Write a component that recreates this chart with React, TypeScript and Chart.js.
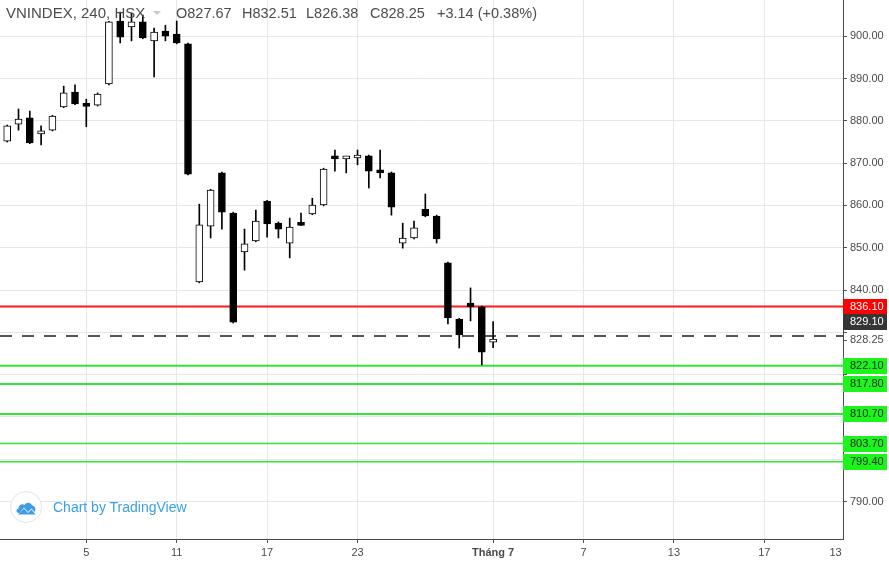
import React, { useEffect, useRef } from 'react';
import { Chart, registerables } from 'chart.js';

Chart.register(...registerables);

// ---- Data ----
const openP = [875.2, 879.2, 880.7, 876.9, 877.8, 883.3, 886.8, 883.6, 883.7, 888.7, 903.6, 902.2, 903.4, 898.9, 901.2, 900.5, 898.2, 841.9, 855.1, 867.7, 858.2, 849.0, 851.6, 861.0, 855.8, 851.1, 855.6, 858.0, 860.1, 871.7, 871.0, 871.2, 871.7, 868.4, 867.7, 851.1, 852.3, 859.1, 857.5, 846.4, 833.1, 836.9, 836.0, 827.67];
const highP = [879.0, 882.8, 882.3, 878.8, 881.3, 888.2, 888.5, 885.1, 886.6, 903.5, 905.7, 905.5, 905.0, 901.9, 902.6, 903.6, 898.4, 860.3, 863.8, 867.9, 858.4, 854.4, 858.9, 861.2, 856.1, 857.0, 858.2, 861.7, 868.8, 873.1, 871.6, 873.1, 871.9, 873.1, 867.9, 855.8, 856.3, 862.7, 857.7, 846.6, 833.3, 840.5, 836.2, 832.51];
const lowP = [875.0, 877.8, 874.6, 874.3, 877.6, 883.1, 883.8, 878.6, 883.5, 888.5, 898.4, 898.9, 899.4, 890.4, 898.9, 898.2, 867.2, 841.7, 852.3, 854.4, 832.2, 844.7, 851.4, 852.5, 852.3, 847.6, 855.2, 857.8, 859.9, 868.1, 867.7, 869.6, 864.1, 866.5, 857.7, 849.9, 852.1, 857.3, 851.1, 832.0, 826.3, 832.7, 822.3, 826.38];
const closeP = [878.8, 880.4, 874.8, 877.6, 881.1, 886.6, 884.0, 883.4, 886.3, 903.4, 899.8, 903.4, 899.6, 901.0, 900.0, 898.4, 867.4, 855.4, 863.6, 858.4, 832.4, 850.9, 856.3, 855.6, 854.4, 854.9, 855.3, 860.1, 868.6, 871.0, 871.4, 871.7, 868.1, 867.7, 859.6, 852.3, 854.7, 857.5, 852.1, 833.4, 829.4, 836.0, 825.3, 828.25];

const xTickIdx = [7, 15, 23, 31, 43, 51, 59, 67, 73.3];
const xTickLabels = ['5', '11', '17', '23', 'Tháng 7', '7', '13', '17', '13'];
const yTickVals = [790, 800, 810, 820, 830, 840, 850, 860, 870, 880, 890, 900];

const redLevels = [836.1];
const greyLevels = [829.1];
const greenLevels = [822.1, 817.8, 810.7, 803.7, 799.4];
const lastPrice = 828.25;

const headerTitle = 'VNINDEX, 240, HSX';
const headerO = 'O827.67';
const headerH = 'H832.51';
const headerL = 'L826.38';
const headerC = 'C828.25';
const headerChg = '+3.14 (+0.38%)';

// ---- Scale window ----
const X_MIN = -0.637;
const X_MAX = 73.96;
const Y_MIN = 781.14;
const Y_MAX = 908.56;

const FONT = '"Liberation Sans", Arial, sans-serif';

const levelLabelPlugin = {
  id: 'levelLabels',
  afterDraw(chart: any) {
    const ys = chart.scales.y;
    const ctx = chart.ctx as CanvasRenderingContext2D;
    const left = ys.left;
    const w = 44;
    const h = 16;
    ctx.save();
    ctx.font = '11px ' + FONT;
    ctx.textBaseline = 'middle';
    ctx.textAlign = 'left';

    const lastY = ys.getPixelForValue(lastPrice);
    ctx.strokeStyle = '#555';
    ctx.lineWidth = 1;
    ctx.beginPath();
    ctx.moveTo(left, Math.round(lastY) + 0.5);
    ctx.lineTo(left + 4, Math.round(lastY) + 0.5);
    ctx.stroke();
    ctx.fillStyle = '#4a4a4a';
    ctx.fillText(lastPrice.toFixed(2), left + 7, lastY);

    const boxes = [
      ...redLevels.map((v) => ({ v, bg: '#ff0000', fg: '#ffffff' })),
      ...greyLevels.map((v) => ({ v, bg: '#363636', fg: '#ffffff' })),
      ...greenLevels.map((v) => ({ v, bg: '#1cf51c', fg: '#2a2a2a' })),
    ];
    boxes.forEach((b) => {
      let cy = ys.getPixelForValue(b.v);
      if (Math.abs(cy - lastY) < h) cy = lastY - h / 2 - 10;
      ctx.fillStyle = b.bg;
      ctx.fillRect(left, Math.round(cy - h / 2), w, h);
      ctx.fillStyle = b.fg;
      ctx.fillText(b.v.toFixed(2), left + 7, cy + 0.5);
    });
    ctx.restore();
  },
};

function hline(v: number, color: string, width: number, dash: number[] = []) {
  return {
    type: 'line' as const,
    data: [
      { x: X_MIN, y: v },
      { x: X_MAX, y: v },
    ],
    borderColor: color,
    borderWidth: width,
    borderDash: dash,
    pointRadius: 0,
    fill: false,
    order: 5,
  };
}

function CandleChart() {
  const ref = useRef<HTMLCanvasElement | null>(null);
  useEffect(() => {
    if (!ref.current) return;
    const idx = openP.map((_, i) => i);
    const bodies = idx.map((i) => ({ x: i, y: [Math.min(openP[i], closeP[i]), Math.max(openP[i], closeP[i])] }));
    const wicks = idx.map((i) => ({ x: i, y: [lowP[i], highP[i]] }));
    const bodyFill = idx.map((i) => (closeP[i] >= openP[i] ? '#ffffff' : '#000000'));
    const greenWidths = greenLevels.map((_, i) => (i < 3 ? 2 : 1.5));

    const chart = new Chart(ref.current, {
      type: 'bar',
      data: {
        datasets: [
          {
            type: 'bar',
            data: bodies as any,
            backgroundColor: bodyFill,
            borderColor: '#000000',
            borderWidth: 1,
            borderSkipped: false,
            barThickness: 7,
            minBarLength: 3,
            grouped: false,
            order: 0,
          } as any,
          {
            type: 'bar',
            data: wicks as any,
            backgroundColor: '#000000',
            borderWidth: 0,
            barThickness: 1,
            grouped: false,
            order: 1,
          } as any,
          ...redLevels.map((v) => hline(v, '#ff1a1a', 2)),
          ...greyLevels.map((v) => hline(v, '#555555', 2, [12, 10])),
          ...greenLevels.map((v, i) => hline(v, '#33e633', greenWidths[i])),
        ] as any,
      },
      options: {
        responsive: false,
        animation: false,
        maintainAspectRatio: false,
        layout: { padding: 0 },
        plugins: { legend: { display: false }, tooltip: { enabled: false } },
        scales: {
          x: {
            type: 'linear',
            min: X_MIN,
            max: X_MAX,
            offset: false,
            afterBuildTicks: (s: any) => {
              s.ticks = xTickIdx.map((v) => ({ value: v }));
            },
            afterFit: (s: any) => {
              s.height = 24;
              s.paddingLeft = 0;
              s.paddingRight = 0;
              s.paddingTop = 0;
              s.paddingBottom = 0;
            },
            grid: {
              offset: false,
              color: (c: any) => (c.index === xTickIdx.length - 1 ? 'rgba(0,0,0,0)' : '#e3e8ef'),
              tickColor: (c: any) => (c.index === xTickIdx.length - 1 ? 'rgba(0,0,0,0)' : '#555555'),
              tickLength: 4,
              lineWidth: 1,
            },
            border: { display: true, color: '#4a4a4a', width: 1 },
            ticks: {
              autoSkip: false,
              maxRotation: 0,
              minRotation: 0,
              padding: 3,
              color: '#4a4a4a',
              font: (c: any) => ({
                family: FONT,
                size: 11,
                weight: c.index === 4 ? 'bold' : 'normal',
              }),
              callback: (_v: any, i: number) => xTickLabels[i],
            },
          },
          y: {
            type: 'linear',
            position: 'right',
            min: Y_MIN,
            max: Y_MAX,
            afterBuildTicks: (s: any) => {
              s.ticks = yTickVals.map((v) => ({ value: v }));
            },
            afterFit: (s: any) => {
              s.width = 46;
              s.paddingTop = 0;
              s.paddingBottom = 0;
              s.paddingLeft = 0;
              s.paddingRight = 0;
            },
            grid: {
              color: '#e3e8ef',
              tickColor: '#555555',
              tickLength: 4,
              lineWidth: 1,
            },
            border: { display: true, color: '#4a4a4a', width: 1 },
            ticks: {
              padding: 3,
              color: '#4a4a4a',
              font: { family: FONT, size: 11 },
              callback: function (this: any, v: any) {
                const val = Number(v);
                const p = this.getPixelForValue(val);
                const marks = [...redLevels, ...greyLevels, ...greenLevels, lastPrice].map((m) =>
                  this.getPixelForValue(m)
                );
                if (marks.some((m) => Math.abs(m - p) < 14)) return '';
                return val.toFixed(2);
              },
            },
          },
        },
      } as any,
      plugins: [levelLabelPlugin],
    });
    return () => chart.destroy();
  }, []);

  return <canvas ref={ref} width={889} height={563} style={{ display: 'block', width: 889, height: 563 }} />;
}

const hdr: React.CSSProperties = {
  position: 'absolute',
  top: 6,
  fontFamily: FONT,
  fontSize: 14.5,
  lineHeight: '14.5px',
  color: '#4d4d4d',
  whiteSpace: 'nowrap',
};

export default function App() {
  return (
    <div
      style={{
        position: 'absolute',
        left: 0,
        top: 0,
        width: 889,
        height: 563,
        background: '#ffffff',
        overflow: 'hidden',
      }}
    >
      <CandleChart />
      <div style={{ ...hdr, left: 6, fontSize: 15 }}>{headerTitle}</div>
      <div
        style={{
          position: 'absolute',
          left: 153,
          top: 11,
          width: 0,
          height: 0,
          borderLeft: '4px solid transparent',
          borderRight: '4px solid transparent',
          borderTop: '4px solid #c8c8c8',
        }}
      />
      <div style={{ ...hdr, left: 176 }}>{headerO}</div>
      <div style={{ ...hdr, left: 242 }}>{headerH}</div>
      <div style={{ ...hdr, left: 306 }}>{headerL}</div>
      <div style={{ ...hdr, left: 370 }}>{headerC}</div>
      <div style={{ ...hdr, left: 437 }}>{headerChg}</div>
      <div
        style={{
          position: 'absolute',
          left: 10,
          top: 491,
          width: 32,
          height: 32,
          borderRadius: '50%',
          border: '1px solid #e3e6ec',
          background: '#ffffff',
          boxSizing: 'border-box',
        }}
      >
        <svg width="30" height="30" viewBox="0 0 30 30" style={{ position: 'absolute', left: 0, top: 0 }}>
          <path
            d="M8 21 C5 21 4.5 17 7.5 16.5 C7.5 13 11 11 13.5 13 C15 10 20 10 21 13.5 C24 13.5 25.5 17.5 23.5 20 L20.5 16.5 L17 20 L13 15.5 L8.5 21 Z"
            fill="#3d9be8"
          />
          <path d="M7 22.5 L13 16.5 L17 21 L20.5 17.5 L24.5 22.5 Z" fill="#3d9be8" />
        </svg>
      </div>
      <div
        style={{
          position: 'absolute',
          left: 53,
          top: 499,
          fontFamily: FONT,
          fontSize: 14,
          lineHeight: '16px',
          color: '#3aa0e6',
          whiteSpace: 'nowrap',
        }}
      >
        Chart by TradingView
      </div>
    </div>
  );
}
